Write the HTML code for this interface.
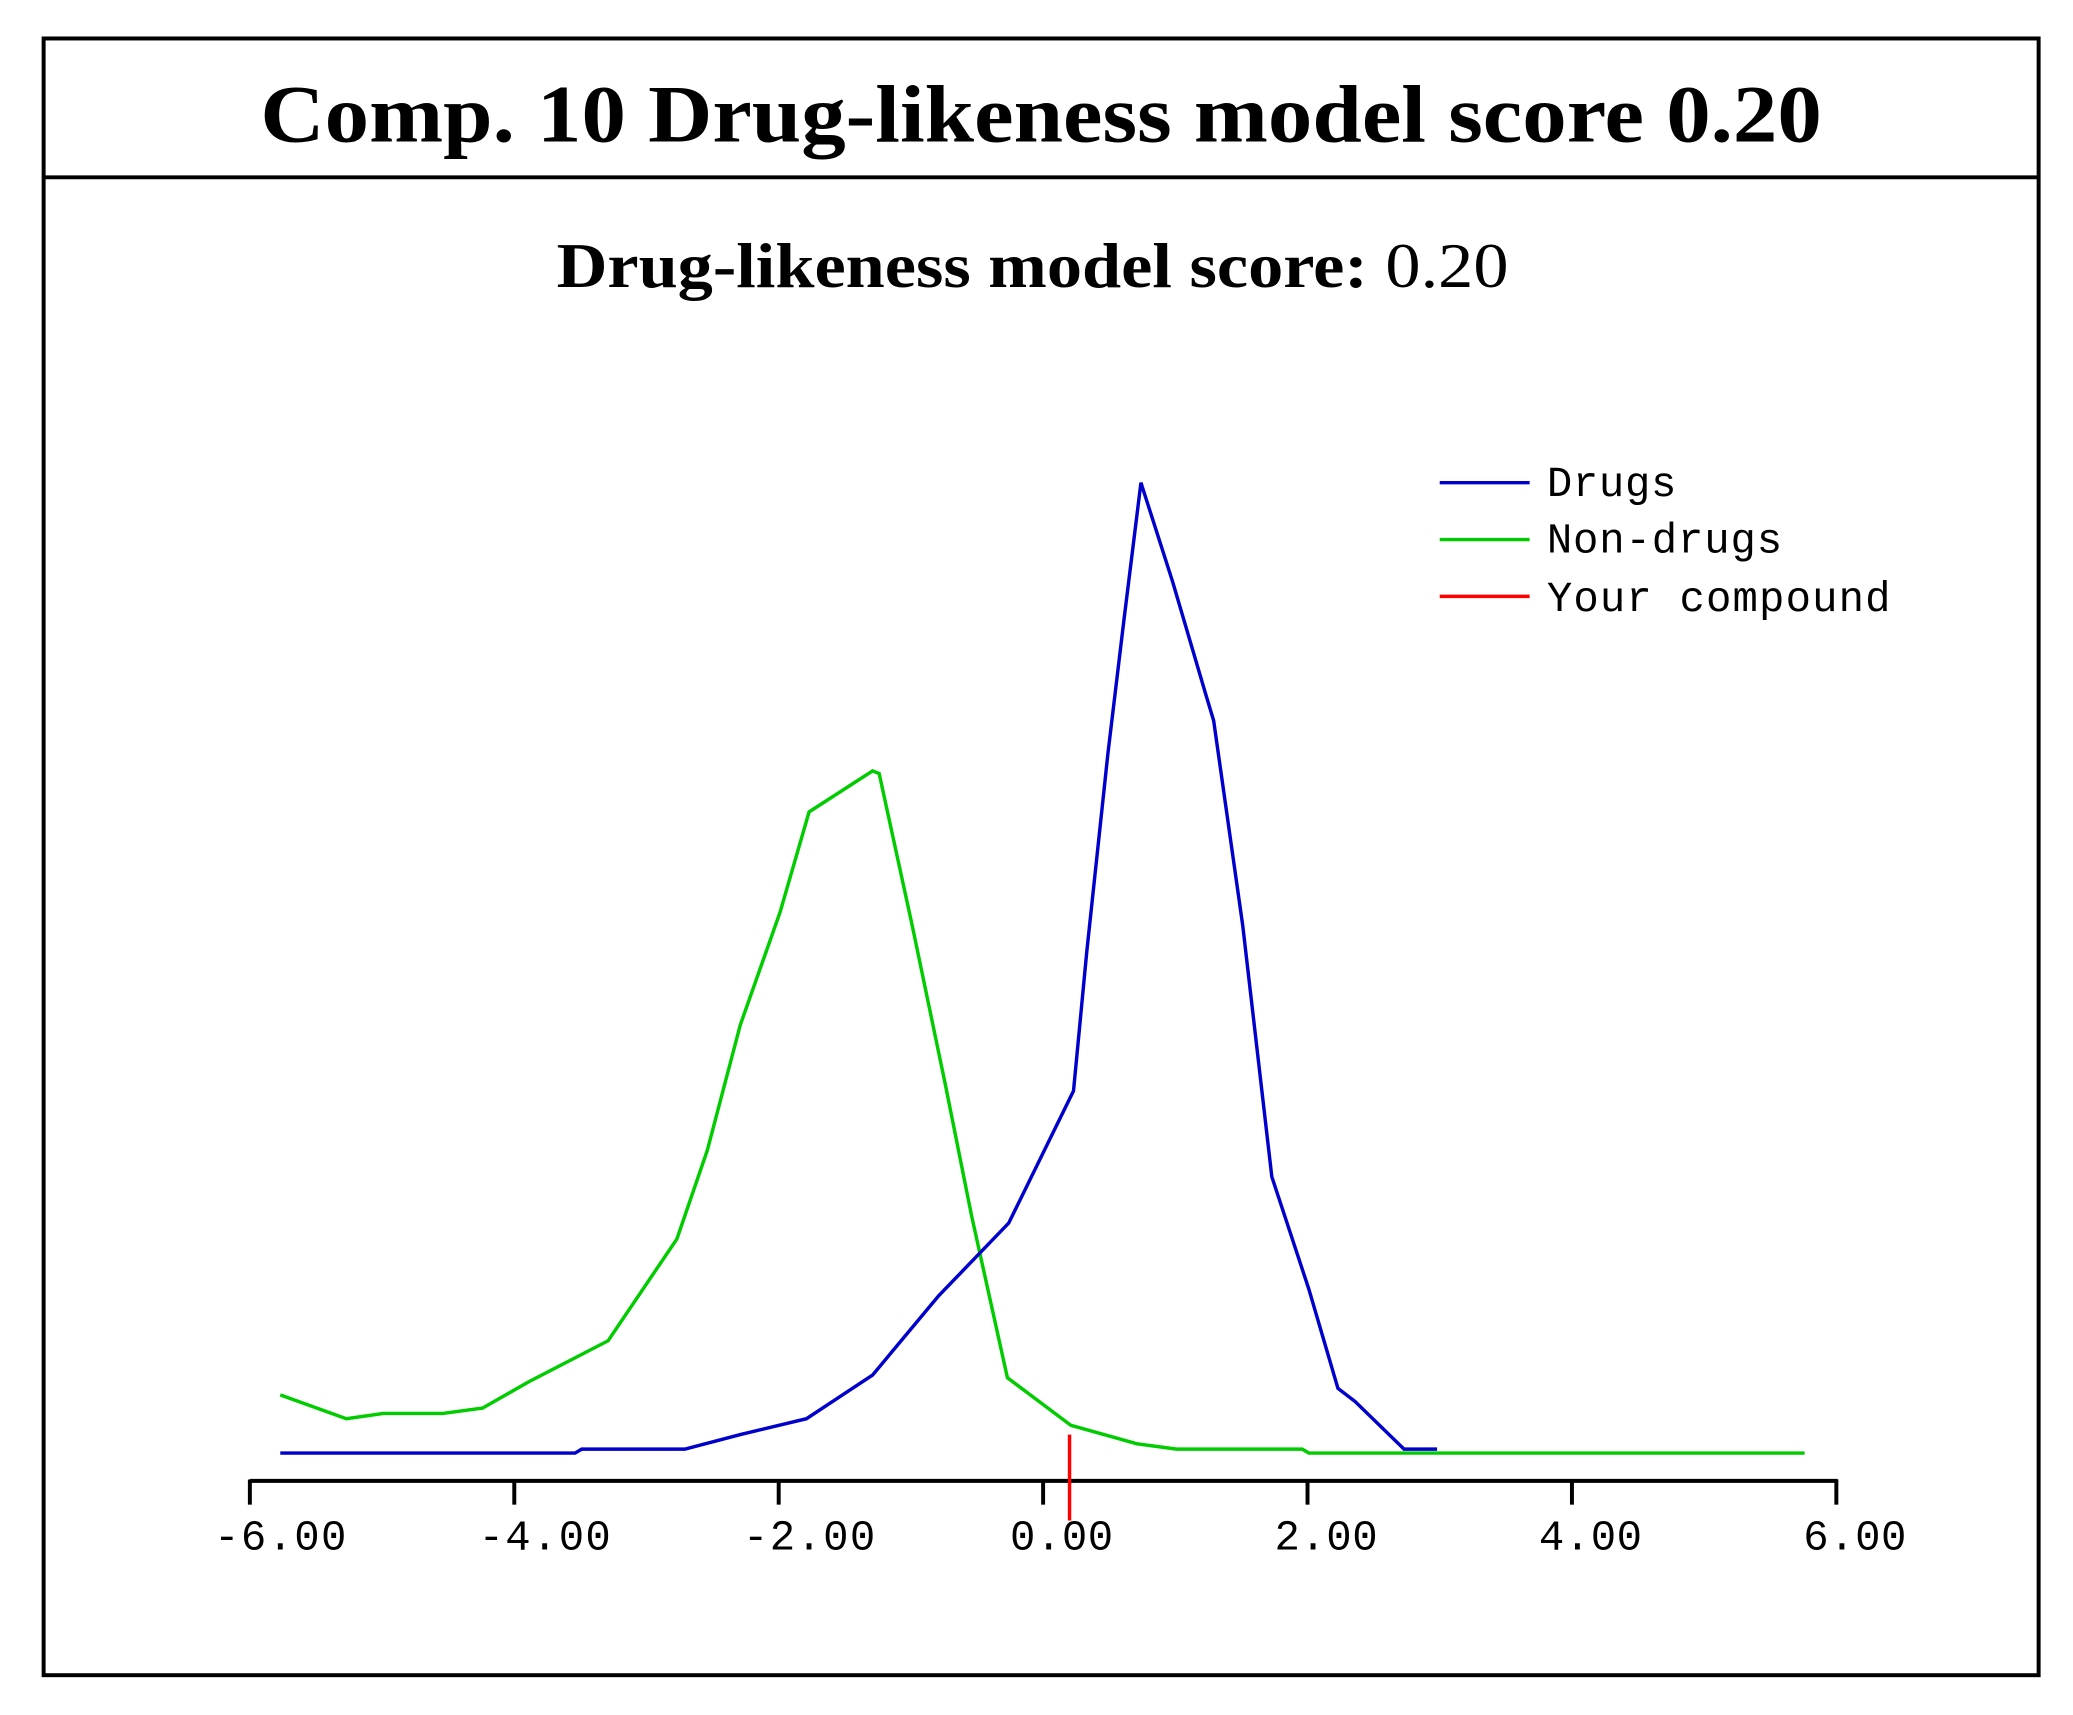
<!DOCTYPE html>
<html><head><meta charset="utf-8"><style>html,body{margin:0;padding:0;background:#fff}svg{display:block}</style></head>
<body>
<svg width="2073" height="1715" viewBox="0 0 1568 1297" xmlns="http://www.w3.org/2000/svg">
<rect x="0" y="0" width="1568" height="1297" fill="#fff"/>
<rect x="33" y="29" width="1509" height="1238" fill="none" stroke="#000" stroke-width="3"/>
<line x1="33" y1="134" x2="1542" y2="134" stroke="#000" stroke-width="3"/>
<text x="197" y="107" textLength="1181" lengthAdjust="spacingAndGlyphs" font-family="Liberation Serif, serif" font-weight="bold" font-size="62">Comp. 10 Drug-likeness model score 0.20</text>
<text x="421" y="217" textLength="720" lengthAdjust="spacingAndGlyphs" font-family="Liberation Serif, serif" font-size="48"><tspan font-weight="bold">Drug-likeness model score:</tspan> 0.20</text>
<g stroke="#000" stroke-width="3" fill="none">
<line x1="189" y1="1120" x2="1390" y2="1120"/>
<line x1="189" y1="1119" x2="189" y2="1138"/>
<line x1="389" y1="1119" x2="389" y2="1138"/>
<line x1="589" y1="1119" x2="589" y2="1138"/>
<line x1="789" y1="1119" x2="789" y2="1138"/>
<line x1="989" y1="1119" x2="989" y2="1138"/>
<line x1="1189" y1="1119" x2="1189" y2="1138"/>
<line x1="1389" y1="1119" x2="1389" y2="1138"/>
</g>
<g font-family="Liberation Mono, monospace" font-size="32" fill="#000">
<text x="162" y="1172" textLength="100">-6.00</text>
<text x="362" y="1172" textLength="100">-4.00</text>
<text x="562" y="1172" textLength="100">-2.00</text>
<text x="764" y="1172" textLength="78">0.00</text>
<text x="964" y="1172" textLength="78">2.00</text>
<text x="1164" y="1172" textLength="78">4.00</text>
<text x="1364" y="1172" textLength="78">6.00</text>
</g>
<polyline fill="none" stroke="#00cc00" stroke-width="2.6" points="212,1055 262,1073 290,1069 335,1069 365,1065 400,1045 460,1014 512,937 535,870 560,775 590,690 612,614 660,583 665,585 690,700 715,820 735,920 762,1042 810,1078 860,1092 890,1096 985,1096 990,1099 1365,1099"/>
<polyline fill="none" stroke="#0000cc" stroke-width="2.6" points="212,1099 435,1099 440,1096 518,1096 560,1085 610,1073 660,1040 710,980 763,925 812,825 822,720 838,570 850,470 863,365 887,440 912,525 918,545 940,700 962,890 990,975 1012,1050 1025,1060 1062,1096 1087,1096"/>
<line x1="809" y1="1085" x2="809" y2="1150" stroke="#ff0000" stroke-width="2.6"/>
<line x1="1089" y1="365" x2="1157" y2="365" stroke="#0000cc" stroke-width="2.6"/>
<line x1="1089" y1="408" x2="1157" y2="408" stroke="#00cc00" stroke-width="2.6"/>
<line x1="1089" y1="451" x2="1157" y2="451" stroke="#ff0000" stroke-width="2.6"/>
<g font-family="Liberation Mono, monospace" font-size="32" fill="#000">
<text x="1170" y="375" textLength="98">Drugs</text>
<text x="1170" y="418" textLength="178">Non-drugs</text>
<text x="1170" y="462" textLength="260">Your compound</text>
</g>
</svg>
</body></html>
